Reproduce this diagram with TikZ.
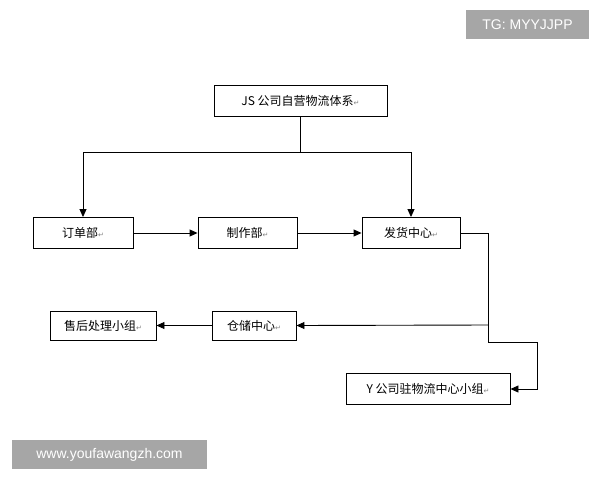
\documentclass[tikz,border=0pt]{standalone}
\usepackage{fontspec}
\setmainfont{Liberation Sans}
\newfontfamily\cjk{Noto Sans CJK SC}
\newfontfamily\dv{DejaVu Sans}
\usetikzlibrary{arrows.meta}
\newcommand{\rt}{{\dv\color{gray}\scriptsize ↵}}
\begin{document}
\begin{tikzpicture}[x=1pt,y=-1pt,
 box/.style={draw,line width=0.9pt,minimum height=31pt,inner sep=0pt,font=\cjk\fontsize{12}{13}\selectfont},
 con/.style={line width=0.9pt},
 arr/.style={con,-{Triangle[length=8pt,width=7pt]}},
 wm/.style={fill=black!35,text=white,inner sep=0pt,font=\fontsize{14}{16}\selectfont}]
\useasboundingbox (0,0) rectangle (600,480);
\fill[white] (0,0) rectangle (600,480);
\node[box,minimum width=173pt] (top) at (300.5,100.5) {JS 公司自营物流体系\rt};
\node[box,minimum width=100pt] (dd) at (83,233) {订单部\rt};
\node[box,minimum width=99pt] (zz) at (247.5,233) {制作部\rt};
\node[box,minimum width=98pt] (fh) at (411,233) {发货中心\rt};
\node[box,minimum width=84pt,minimum height=29pt] (cc) at (254,325.5) {仓储中心\rt};
\node[box,minimum width=106pt,minimum height=29pt] (sh) at (103,325.5) {售后处理小组\rt};
\node[box,minimum width=164pt] (yy) at (428,389) {Y 公司驻物流中心小组\rt};
\coordinate (j1) at (300.5,152);
\coordinate (j2) at (488,325);
\draw[con] (top.south) -- (j1);
\draw[arr] (j1) -| (dd.north);
\draw[arr] (j1) -| (fh.north);
\draw[arr] (dd) -- (zz);
\draw[arr] (zz) -- (fh);
\draw[con] (fh.east) -| (j2);
\draw[arr] (j2) -- (cc.east);
\draw[arr] (j2) |- (537,342) |- (yy.east);
\draw[arr] (cc) -- (sh);
\node[wm,minimum width=123pt,minimum height=29pt] (tg) at (527.5,24.5) {TG: MYYJJPP};
\node[wm,minimum width=195pt,minimum height=29pt] (web) at (109.5,454.5) {www.youfawangzh.com};
\end{tikzpicture}
\end{document}
